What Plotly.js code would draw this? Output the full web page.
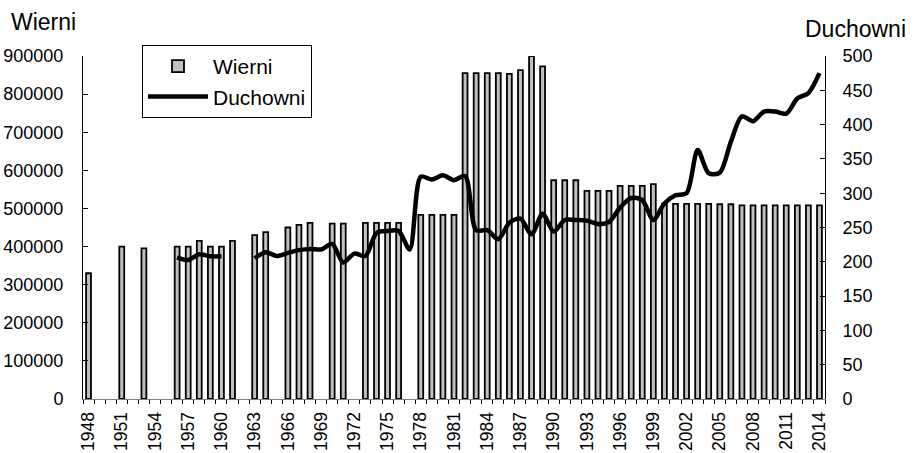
<!DOCTYPE html>
<html>
<head>
<meta charset="utf-8">
<script src="https://cdn.plot.ly/plotly-3.0.1.min.js"></script>
<style>html,body{margin:0;padding:0;background:#fff;}#chart{width:914px;height:453px;}</style>
</head>
<body>
<div id="chart"></div>
<script>
const years = [];
for (let y = 1948; y <= 2014; y++) years.push(y);

const wierni = [
  330000, null, null, 400000, null, 395000, null, null, 400000, 400000,
  415000, 400000, 400000, 415000, null, 430000, 438000, null, 450000, 457000,
  462000, null, 460000, 460000, null, 462000, 462000, 462000, 462000, null,
  483000, 483000, 483000, 483000, 855000, 855000, 855000, 855000, 853000, 863000,
  900000, 873000, 574000, 574000, 574000, 546000, 546000, 546000, 559000, 559000,
  559000, 564000, 512000, 512000, 512000, 512000, 512000, 511000, 511000, 508000,
  508000, 508000, 508000, 508000, 508000, 508000, 508000
];

const duchowni = [
  null, null, null, null, null, null, null, null, 206.5, 202.6,
  211, 208, 208, null, null, 205, 214, 208.5, 213, 217,
  218.7, 218, 226, 199, 212, 208.5, 242, 245, 245, 218,
  324, 320, 326, 319, 325, 246, 246, 233, 257, 263,
  240, 270, 244, 261, 261, 260, 255, 258, 279, 293,
  290, 261, 285, 297, 300, 363, 329, 330, 375, 412,
  405, 419, 419, 416, 438, 446, 475
];

const tickYears = [1948,1951,1954,1957,1960,1963,1966,1969,1972,1975,1978,1981,1984,1987,1990,1993,1996,1999,2002,2005,2008,2011,2014];
const tickLabels = tickYears.map(String);
const boundaries = years.map(y => y - 0.5).concat([years[years.length - 1] + 0.5]);

const FONT = '"Liberation Sans", Arial, sans-serif';

const traces = [
  {
    type: 'bar', name: 'Wierni', x: years, y: wierni, width: 0.44,
    marker: {color: '#c0c0c0', line: {color: '#000', width: 1.8}},
    yaxis: 'y'
  },
  {
    type: 'scatter', mode: 'lines', name: 'Duchowni', x: years, y: duchowni,
    line: {color: '#000', width: 4.5, shape: 'spline', smoothing: 0.8},
    connectgaps: false, yaxis: 'y2'
  }
];

const layout = {
  width: 914, height: 453,
  margin: {l: 83, r: 89, t: 56, b: 54, pad: 0},
  paper_bgcolor: '#fff', plot_bgcolor: '#fff',
  font: {family: FONT, size: 18, color: '#000'},
  showlegend: true,
  legend: {
    x: 0.0795, y: 1.032, xanchor: 'left', yanchor: 'top',
    bgcolor: '#fff', bordercolor: '#000', borderwidth: 1,
    font: {family: FONT, size: 21, color: '#000'},
    itemwidth: 60, tracegroupgap: 0
  },
  xaxis: {
    type: 'linear', range: [1947.5, 2014.5],
    tickmode: 'array', tickvals: tickYears, ticktext: tickLabels,
    ticks: '', tickangle: -90, ticklabelstandoff: 5,
    tickfont: {family: FONT, size: 17.5, color: '#000'},
    minor: {tickmode: 'array', tickvals: boundaries, ticks: 'outside', ticklen: 4, tickcolor: '#000', tickwidth: 1, showgrid: false},
    showline: true, linecolor: '#808080', linewidth: 1,
    showgrid: false, zeroline: false, fixedrange: true
  },
  yaxis: {
    range: [0, 900000], tickmode: 'linear', tick0: 0, dtick: 100000, tickformat: 'd',
    ticks: 'inside', ticklen: 5, tickcolor: '#000',
    showline: true, linecolor: '#000', linewidth: 1,
    ticklabelstandoff: 15,
    tickfont: {family: FONT, size: 18, color: '#000'},
    showgrid: false, zeroline: false, fixedrange: true
  },
  yaxis2: {
    range: [0, 500], tickmode: 'linear', tick0: 0, dtick: 50,
    overlaying: 'y', side: 'right', anchor: 'x',
    ticks: 'inside', ticklen: 5, tickcolor: '#000',
    showline: true, linecolor: '#000', linewidth: 1,
    ticklabelstandoff: 13,
    tickfont: {family: FONT, size: 18, color: '#000'},
    showgrid: false, zeroline: false, fixedrange: true
  },
  annotations: [
    {text: 'Wierni', xref: 'paper', yref: 'paper', x: -0.0993, y: 1.0996, xanchor: 'left', yanchor: 'middle',
     showarrow: false, font: {family: FONT, size: 23, color: '#000'}},
    {text: 'Duchowni', xref: 'paper', yref: 'paper', x: 1.1119, y: 1.0793, xanchor: 'right', yanchor: 'middle',
     showarrow: false, font: {family: FONT, size: 23, color: '#000'}}
  ]
};

Plotly.newPlot('chart', traces, layout, {displayModeBar: false, staticPlot: true});
</script>
</body>
</html>
